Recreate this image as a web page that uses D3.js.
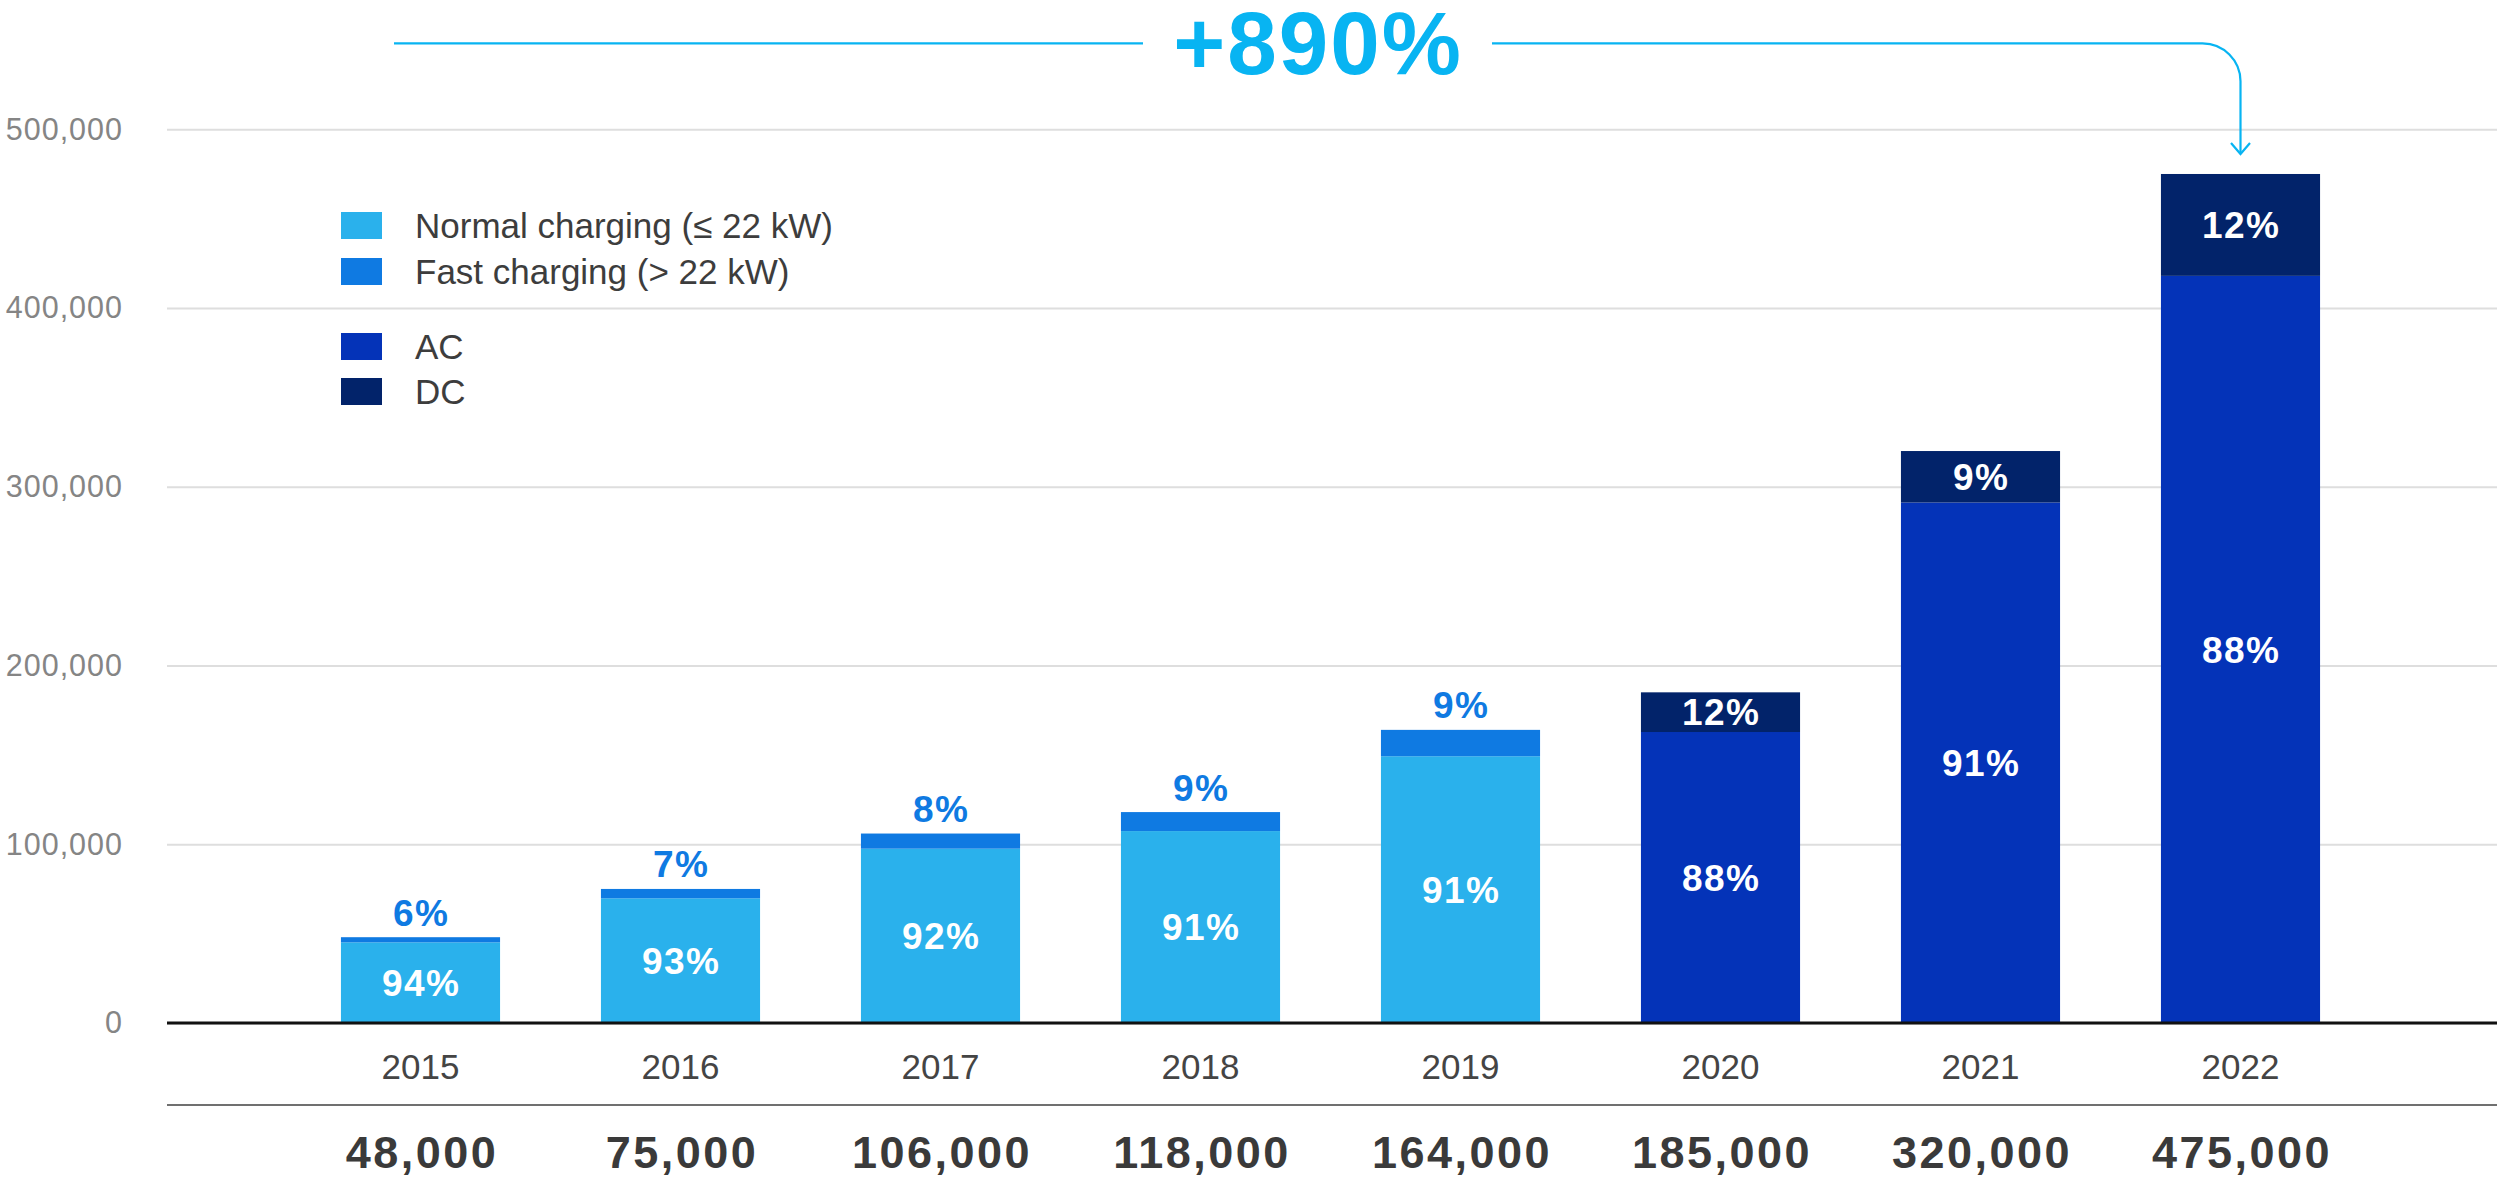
<!DOCTYPE html>
<html>
<head>
<meta charset="utf-8">
<script src="https://cdn.jsdelivr.net/npm/d3@7"></script>
<style>
  html, body { margin: 0; padding: 0; background: #ffffff; }
  svg { display: block; }
  text { font-family: "Liberation Sans", Arial, Helvetica, sans-serif; }
</style>
</head>
<body>
<svg id="chart" width="2497" height="1180"></svg>
<script>
// Charging points per year, with the share of each power class
const years = ["2015", "2016", "2017", "2018", "2019", "2020", "2021", "2022"];
const totals = [48000, 75000, 106000, 118000, 164000, 185000, 320000, 475000];
const lowerShare = [94, 93, 92, 91, 91, 88, 91, 88];   // normal charging / AC
const upperShare = [6, 7, 8, 9, 9, 12, 9, 12];         // fast charging / DC
const splitType = ["kw", "kw", "kw", "kw", "kw", "acdc", "acdc", "acdc"];
const totalLabels = ["48,000", "75,000", "106,000", "118,000", "164,000", "185,000", "320,000", "475,000"];
const yTicks = [0, 100000, 200000, 300000, 400000, 500000];
const growthLabel = "+890%";

const legendItems = [
  { key: "normal", label: "Normal charging (\u2264 22 kW)" },
  { key: "fast", label: "Fast charging (> 22 kW)" },
  { key: "ac", label: "AC" },
  { key: "dc", label: "DC" }
];

const colors = {
  normal: "#2ab1ec",
  fast: "#0f7ae2",
  ac: "#0433b8",
  dc: "#02236a",
  accent: "#08b4f2"
};

const svg = d3.select("#chart");
const W = 2497;
const plotLeft = 167;

const x = d3.scaleBand()
  .domain(years)
  .range([290.5, 2370.5])
  .paddingInner(0.388)
  .paddingOuter(0.194);

const y = d3.scaleLinear()
  .domain([0, 500000])
  .range([1023, 129.3]);

// Gridlines and value labels
const yAxis = d3.axisLeft(y)
  .tickValues(yTicks)
  .tickSize(-(W - plotLeft))
  .tickPadding(44)
  .tickFormat(d3.format(","));

const gy = svg.append("g")
  .attr("transform", `translate(${plotLeft},0)`)
  .call(yAxis);
gy.select(".domain").remove();
gy.selectAll(".tick line").attr("stroke", "#dedede").attr("stroke-width", 2);
gy.selectAll(".tick text")
  .attr("fill", "#858585")
  .attr("font-size", 30.5)
  .attr("letter-spacing", 1)
  .attr("font-family", "'Liberation Sans', Arial, sans-serif");

// Stacked bars
const rows = years.map((yr, i) => {
  const lower = totals[i] * lowerShare[i] / 100;
  const upper = totals[i] * upperShare[i] / 100;
  const isKw = splitType[i] === "kw";
  return {
    year: yr, total: totals[i], lower, upper,
    lowerPct: lowerShare[i], upperPct: upperShare[i],
    lowerColor: isKw ? colors.normal : colors.ac,
    upperColor: isKw ? colors.fast : colors.dc,
    isKw
  };
});

const bw = x.bandwidth();
const bars = svg.append("g").selectAll("g").data(rows).join("g");

bars.append("rect")
  .attr("x", d => x(d.year))
  .attr("width", bw)
  .attr("y", d => y(d.lower))
  .attr("height", d => y(0) - y(d.lower))
  .attr("fill", d => d.lowerColor);

bars.append("rect")
  .attr("x", d => x(d.year))
  .attr("width", bw)
  .attr("y", d => y(d.lower + d.upper))
  .attr("height", d => y(d.lower) - y(d.lower + d.upper))
  .attr("fill", d => d.upperColor);

const pctSize = 37;
const pctSpacing = 1.5;
const capHalf = pctSize * 0.358;

// Share of the lower segment, inside the bar
bars.append("text")
  .attr("x", d => x(d.year) + bw / 2 + pctSpacing / 2)
  .attr("y", d => (y(0) + y(d.lower)) / 2 + capHalf)
  .attr("text-anchor", "middle")
  .attr("font-size", pctSize)
  .attr("font-weight", "bold")
  .attr("letter-spacing", pctSpacing)
  .attr("fill", "#ffffff")
  .text(d => d.lowerPct + "%");

// Share of the upper segment: above the bar for kW split, inside for AC/DC
bars.append("text")
  .attr("x", d => x(d.year) + bw / 2 + pctSpacing / 2)
  .attr("y", d => d.isKw
    ? y(d.lower + d.upper) - 11.5
    : (y(d.lower) + y(d.lower + d.upper)) / 2 + capHalf)
  .attr("text-anchor", "middle")
  .attr("font-size", pctSize)
  .attr("font-weight", "bold")
  .attr("letter-spacing", pctSpacing)
  .attr("fill", d => d.isKw ? colors.fast : "#ffffff")
  .text(d => d.upperPct + "%");

// Baseline
svg.append("line")
  .attr("x1", plotLeft).attr("x2", W)
  .attr("y1", y(0)).attr("y2", y(0))
  .attr("stroke", "#111111").attr("stroke-width", 3);

// Year labels
svg.append("g").selectAll("text").data(years).join("text")
  .attr("x", d => x(d) + bw / 2)
  .attr("y", 1079)
  .attr("text-anchor", "middle")
  .attr("font-size", 35)
  .attr("fill", "#444444")
  .text(d => d);

// Separator between years and totals
svg.append("line")
  .attr("x1", plotLeft).attr("x2", W)
  .attr("y1", 1105).attr("y2", 1105)
  .attr("stroke", "#707070").attr("stroke-width", 2);

// Totals per year
svg.append("g").selectAll("text").data(years).join("text")
  .attr("x", (d, i) => x(d) + bw / 2 + 1.5)
  .attr("y", 1168)
  .attr("text-anchor", "middle")
  .attr("font-size", 45)
  .attr("font-weight", "bold")
  .attr("letter-spacing", 2.5)
  .attr("fill", "#3a3a3a")
  .text((d, i) => totalLabels[i]);

// Legend
const legendY = [212, 258, 333, 378];
const legend = svg.append("g").selectAll("g").data(legendItems).join("g")
  .attr("transform", (d, i) => `translate(341,${legendY[i]})`);
legend.append("rect")
  .attr("width", 41).attr("height", 27)
  .attr("fill", d => colors[d.key]);
legend.append("text")
  .attr("x", 74)
  .attr("y", 26)
  .attr("font-size", 35)
  .attr("fill", "#3d3d3d")
  .text(d => d.label);

// Growth annotation with arrow to the last bar
const lineY = 43.3;
const lastX = x(years[years.length - 1]) + bw / 2;
const tipY = y(totals[totals.length - 1]) - 20;
const r = 38;
const ann = svg.append("g")
  .attr("fill", "none")
  .attr("stroke", colors.accent)
  .attr("stroke-width", 2.2);

ann.append("line")
  .attr("x1", 394).attr("x2", 1143)
  .attr("y1", lineY).attr("y2", lineY);

const p = d3.path();
p.moveTo(1492, lineY);
p.lineTo(lastX - r, lineY);
p.arcTo(lastX, lineY, lastX, lineY + r, r);
p.lineTo(lastX, tipY);
ann.append("path").attr("d", p.toString());

ann.append("path")
  .attr("d", `M${lastX - 9.5},${tipY - 11} L${lastX},${tipY} L${lastX + 9.5},${tipY - 11}`)
  .attr("stroke-linejoin", "miter");

svg.append("text")
  .attr("x", 1318)
  .attr("y", 74)
  .attr("text-anchor", "middle")
  .attr("font-size", 89)
  .attr("font-weight", "bold")
  .attr("letter-spacing", 2)
  .attr("fill", colors.accent)
  .text(growthLabel);
</script>
</body>
</html>
